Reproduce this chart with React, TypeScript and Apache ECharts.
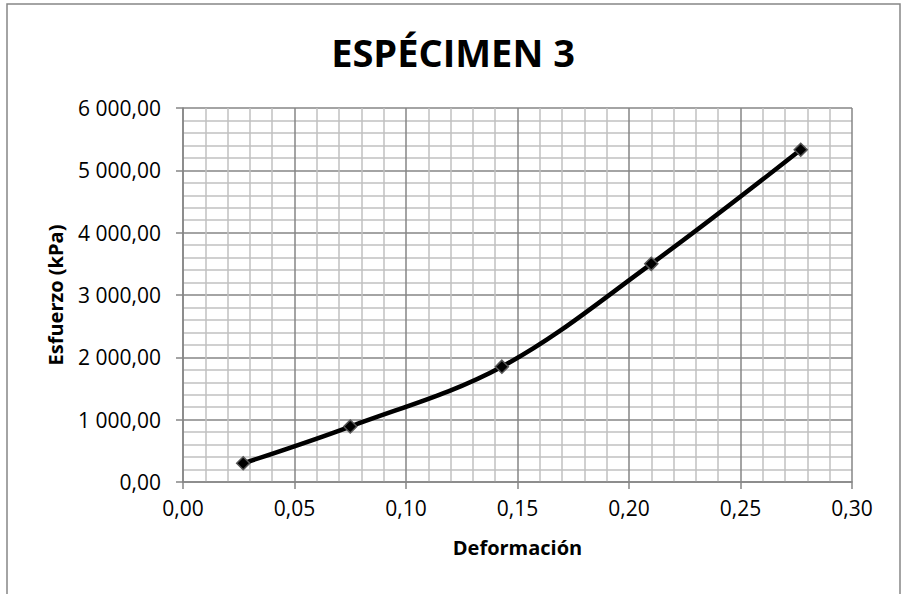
import React, { useEffect, useRef } from "react";
import * as echarts from "echarts";

const titleText = "ESPÉCIMEN 3";
const xAxisName = "Deformación";
const yAxisName = "Esfuerzo (kPa)";
const deformacion = [0.027, 0.075, 0.143, 0.21, 0.277];
const esfuerzo = [300, 890, 1850, 3500, 5330];

const fmtY = (v: number) => {
  const [i, d] = v.toFixed(2).split(".");
  const withSp = i.replace(/\B(?=(\d{3})+(?!\d))/g, " ");
  return withSp + "," + d;
};
const fmtX = (v: number) => v.toFixed(2).replace(".", ",");

export default function App() {
  const ref = useRef<HTMLDivElement>(null);
  useEffect(() => {
    if (!ref.current) return;
    const chart = echarts.init(ref.current, undefined, { renderer: "svg" });
    const font = "'Open Sans', 'Noto Sans', sans-serif";
    chart.setOption({
      animation: false,
      backgroundColor: "#ffffff",
      textStyle: { fontFamily: font },
      title: {
        text: titleText,
        left: 448,
        top: 28,
        textAlign: "center",
        textStyle: { fontSize: 38, fontWeight: "bold", color: "#000", fontFamily: font },
      },
      graphic: [
        {
          type: "rect",
          shape: { x: 7, y: 4, width: 893, height: 620 },
          style: { fill: "none", stroke: "#868686", lineWidth: 1.5 },
          silent: true,
        },
      ],
      grid: { left: 183, right: 52, top: 108, bottom: 112, containLabel: false },
      xAxis: {
        type: "value",
        min: 0,
        max: 0.3,
        interval: 0.05,
        name: xAxisName,
        nameLocation: "middle",
        nameGap: 55,
        nameTextStyle: { fontSize: 20, fontWeight: "bold", color: "#000", fontFamily: font },
        axisLine: { show: true, lineStyle: { color: "#868686", width: 1.5 } },
        axisTick: { show: true, length: 7, lineStyle: { color: "#868686", width: 1.5 } },
        axisLabel: { formatter: fmtX, fontSize: 21, color: "#000", margin: 15, fontFamily: font },
        splitLine: { show: true, lineStyle: { color: "#868686", width: 1.5 } },
        minorTick: { show: false, splitNumber: 5 },
        minorSplitLine: { show: true, lineStyle: { color: "#c0c0c0", width: 1.5 } },
      },
      yAxis: {
        type: "value",
        min: 0,
        max: 6000,
        interval: 1000,
        name: yAxisName,
        nameLocation: "middle",
        nameGap: 118,
        nameTextStyle: { fontSize: 20, fontWeight: "bold", color: "#000", fontFamily: font },
        axisLine: { show: true, lineStyle: { color: "#868686", width: 1.5 } },
        axisTick: { show: true, length: 7, lineStyle: { color: "#868686", width: 1.5 } },
        axisLabel: { formatter: fmtY, fontSize: 21, color: "#000", margin: 22, fontFamily: font },
        splitLine: { show: true, lineStyle: { color: "#868686", width: 1.5 } },
        minorTick: { show: false, splitNumber: 5 },
        minorSplitLine: { show: true, lineStyle: { color: "#c0c0c0", width: 1.5 } },
      },
      series: [
        {
          type: "line",
          data: deformacion.map((x, i) => [x, esfuerzo[i]]),
          smooth: 0.35,
          symbol: "diamond",
          symbolSize: 13,
          lineStyle: { color: "#000", width: 4.5 },
          itemStyle: { color: "#000", borderColor: "#555", borderWidth: 1.5 },
        },
      ],
    });
    return () => chart.dispose();
  }, []);
  return (
    <div
      ref={ref}
      style={{ position: "absolute", left: 0, top: 0, width: 904, height: 594 }}
    />
  );
}
